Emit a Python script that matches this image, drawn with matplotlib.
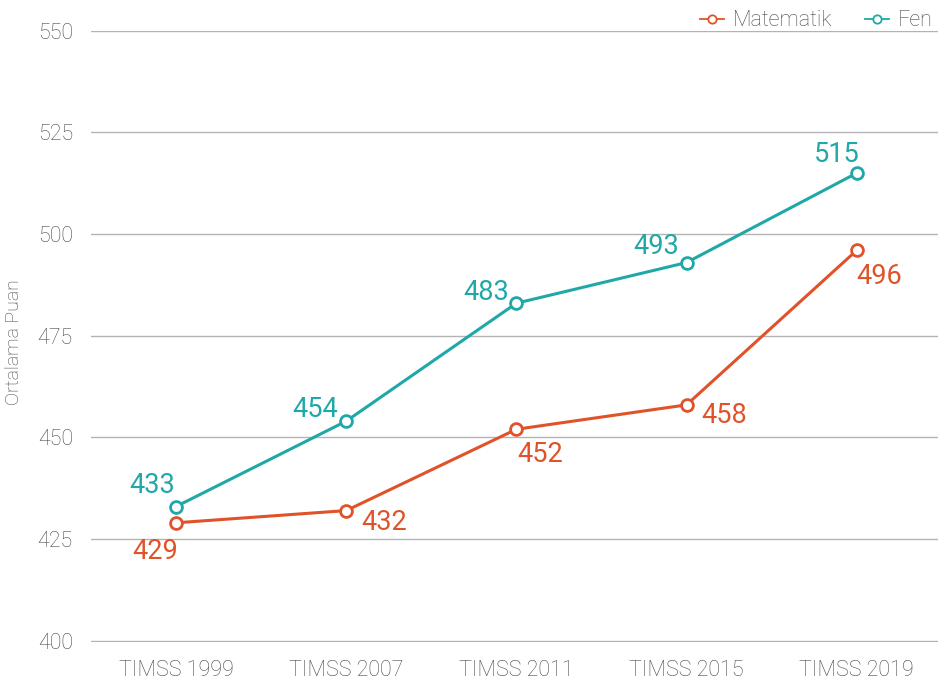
import matplotlib
matplotlib.use("Agg")
import matplotlib.pyplot as plt
from matplotlib.lines import Line2D

plt.rcParams['font.family'] = ['Roboto', 'DejaVu Sans']

categories = ["TIMSS 1999", "TIMSS 2007", "TIMSS 2011", "TIMSS 2015", "TIMSS 2019"]
matematik = [429, 432, 452, 458, 496]
fen = [433, 454, 483, 493, 515]
y_ticks = [400, 425, 450, 475, 500, 525, 550]

mat_color = "#E0532A"
fen_color = "#20A8A8"
text_gray = "#4a4a4a"

fig = plt.figure(figsize=(9.38, 6.84), dpi=100)
ax = fig.add_axes([0.097, 0.0615, 0.907, 0.8935])

x = list(range(len(categories)))
ax.plot(x, matematik, color=mat_color, lw=2.2, marker="o", ms=8.5,
        mfc="white", mec=mat_color, mew=2, zorder=3)
ax.plot(x, fen, color=fen_color, lw=2.2, marker="o", ms=8.5,
        mfc="white", mec=fen_color, mew=2, zorder=3)

# value labels
fen_offsets = [(-17, 15.5), (-22, 8.5), (-22, 7.5), (-22, 11.5), (-14, 13.5)]
mat_offsets = [(-15, -21), (27, -8.5), (17, -18.5), (27, -7.5), (16, -18.5)]
for xi, v, off in zip(x, fen, fen_offsets):
    ax.annotate(str(v), (xi, v), xytext=off, textcoords="offset points",
                ha="center", va="center", color=fen_color, fontsize=19.5)
for xi, v, off in zip(x, matematik, mat_offsets):
    ax.annotate(str(v), (xi, v), xytext=off, textcoords="offset points",
                ha="center", va="center", color=mat_color, fontsize=19.5)

ax.set_xlim(-0.5, 4.5)
ax.set_ylim(399.7, 550)
ax.set_yticks(y_ticks)
ax.set_xticks(x)
ax.set_xticklabels(categories)
ax.grid(axis="y", color="#b3b3b3", lw=1)
ax.set_axisbelow(True)
for s in ax.spines.values():
    s.set_visible(False)
ax.tick_params(axis="both", length=0, labelsize=15.5, labelcolor=text_gray)
for lbl in ax.get_xticklabels() + ax.get_yticklabels():
    lbl.set_fontweight("light")
ax.tick_params(axis="y", pad=13)
ax.tick_params(axis="x", pad=13)

fig.text(14 / 938, 0.5, "Ortalama Puan", rotation=90, ha="center",
         va="center", fontsize=14, color=text_gray, fontweight="light")

handles = [
    Line2D([], [], color=mat_color, lw=1.3, marker="o", ms=6, mfc="white",
           mec=mat_color, mew=1.3),
    Line2D([], [], color=fen_color, lw=1.3, marker="o", ms=6, mfc="white",
           mec=fen_color, mew=1.3),
]
leg = ax.legend(handles, ["Matematik", "Fen"], loc="lower right",
                bbox_to_anchor=(1.0, 0.985), ncol=2, frameon=False,
                fontsize=15.5, labelcolor=text_gray, handlelength=1.1,
                handletextpad=0.45, columnspacing=1.5, borderaxespad=0)
for t in leg.get_texts():
    t.set_fontweight("light")

fig.savefig("out.png", dpi=100)
